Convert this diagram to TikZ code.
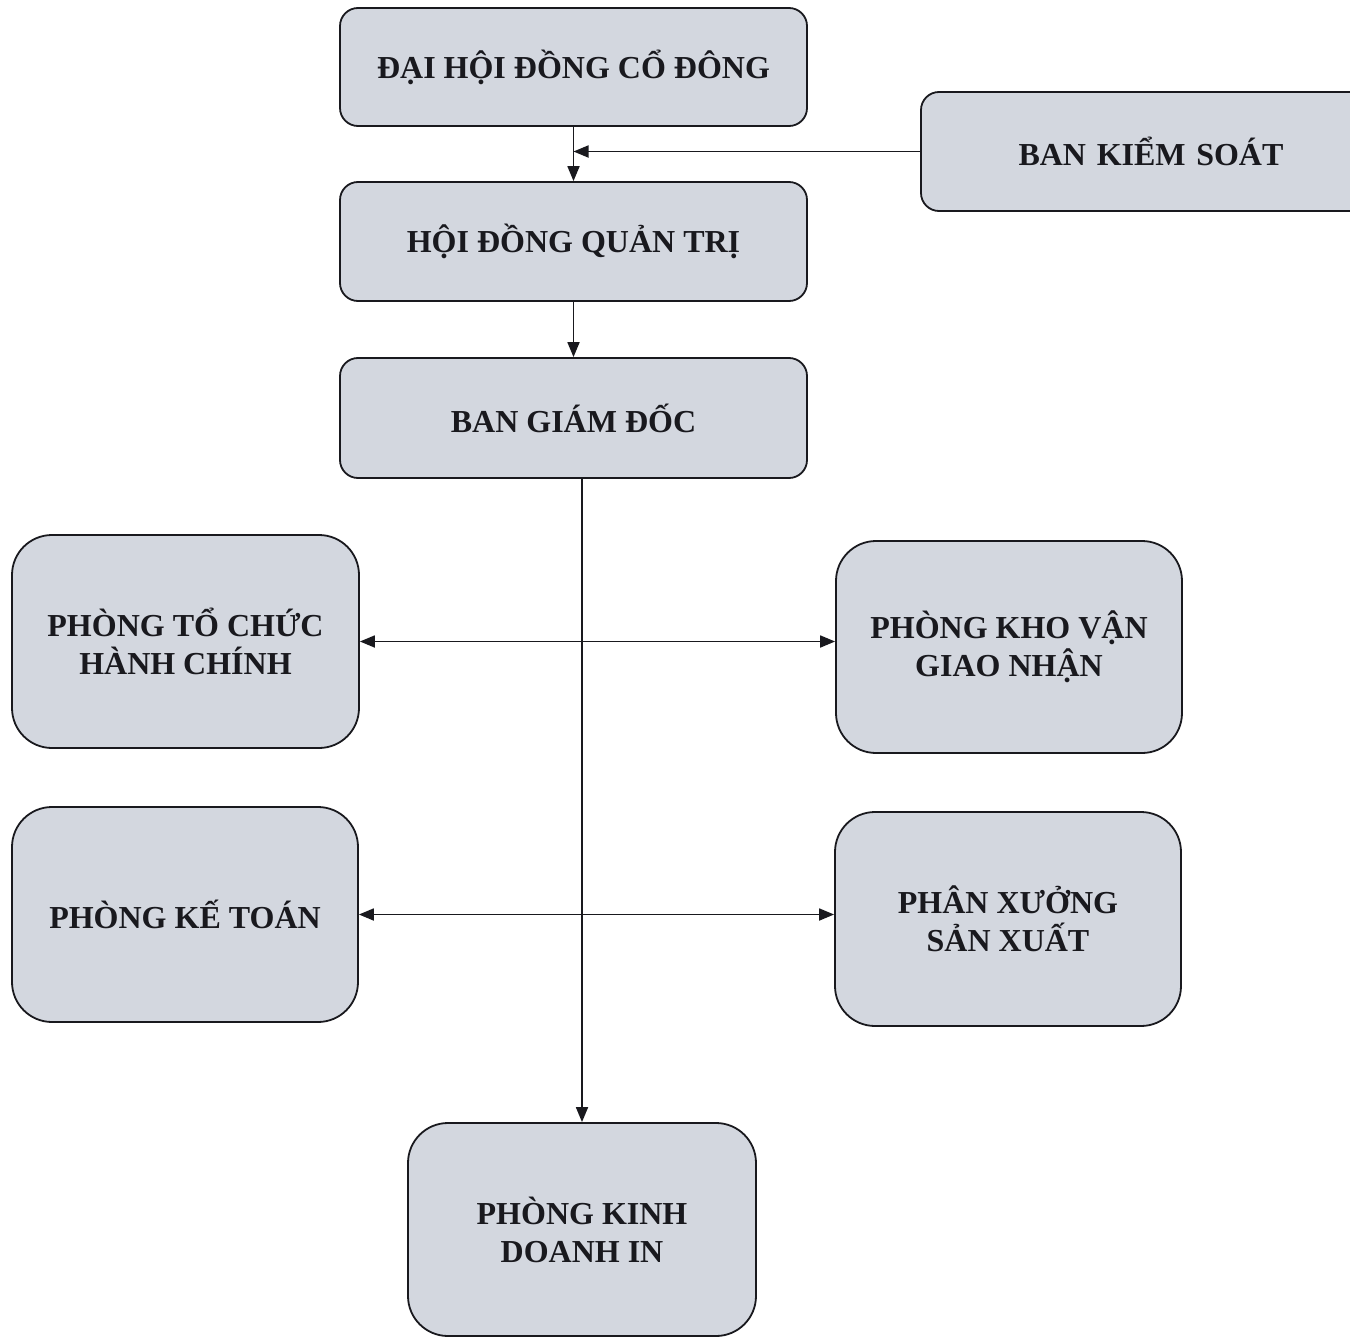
\documentclass[tikz,border=0pt]{standalone}
\usepackage{fontspec}
\setmainfont{Liberation Serif}
\usetikzlibrary{arrows.meta}
\definecolor{boxfill}{RGB}{211,215,223}
\definecolor{ink}{RGB}{25,25,30}
\begin{document}
\begin{tikzpicture}[x=1pt,y=-1pt,
  orgbox/.style={draw=ink, line width=1.8pt, fill=boxfill, rounded corners=18pt,
    inner sep=0pt, align=center, font=\fontsize{32}{38}\selectfont\bfseries, text=ink},
  bigbox/.style={orgbox, rounded corners=40pt},
  conn/.style={draw=ink, line width=1.8pt},
  tip/.style={-{Triangle[length=15pt,width=12pt]}},
  tips/.style={{Triangle[length=15pt,width=12pt]}-{Triangle[length=15pt,width=12pt]}}]
\useasboundingbox (0,0) rectangle (1350,1338);
\fill[white] (0,0) rectangle (1350,1338);

\node[orgbox, minimum width=467pt, minimum height=118pt] (dh) at (573.5,67) {ĐẠI HỘI ĐỒNG CỔ ĐÔNG};
\node[orgbox, minimum width=460pt, minimum height=119pt, text width=460pt] (bks) at (1151,151.5) {\hspace*{0pt}BAN KIỂM SOÁT};
\node[orgbox, minimum width=467pt, minimum height=119pt] (hd) at (573.5,241.5) {HỘI ĐỒNG QUẢN TRỊ};
\node[orgbox, minimum width=467pt, minimum height=120pt] (bgd) at (573.5,418) {BAN GIÁM ĐỐC};
\node[bigbox, minimum width=347pt, minimum height=213pt] (ptc) at (185.5,641.5) {PHÒNG TỔ CHỨC\\HÀNH CHÍNH};
\node[bigbox, minimum width=346pt, minimum height=212pt] (pkv) at (1009,647) {PHÒNG KHO VẬN\\GIAO NHẬN};
\node[bigbox, minimum width=346pt, minimum height=215pt] (pkt) at (185,914.5) {PHÒNG KẾ TOÁN};
\node[bigbox, minimum width=346pt, minimum height=214pt] (pxs) at (1008,919) {PHÂN XƯỞNG\\SẢN XUẤT};
\node[bigbox, minimum width=348pt, minimum height=213pt] (pkd) at (582,1229.5) {PHÒNG KINH\\DOANH IN};

\coordinate (j) at (dh.south |- bks.west);
\draw[conn, tip] (dh.south) -- (hd.north);
\draw[conn, tip] (bks.west) -- (j);
\draw[conn, tip] (hd.south) -- (bgd.north);
\draw[conn, tip] (pkd.north |- bgd.south) -- (pkd.north);
\draw[conn, tips] (ptc.east) -- (ptc.east -| pkv.west);
\draw[conn, tips] (pkt.east) -- (pkt.east -| pxs.west);
\end{tikzpicture}
\end{document}
